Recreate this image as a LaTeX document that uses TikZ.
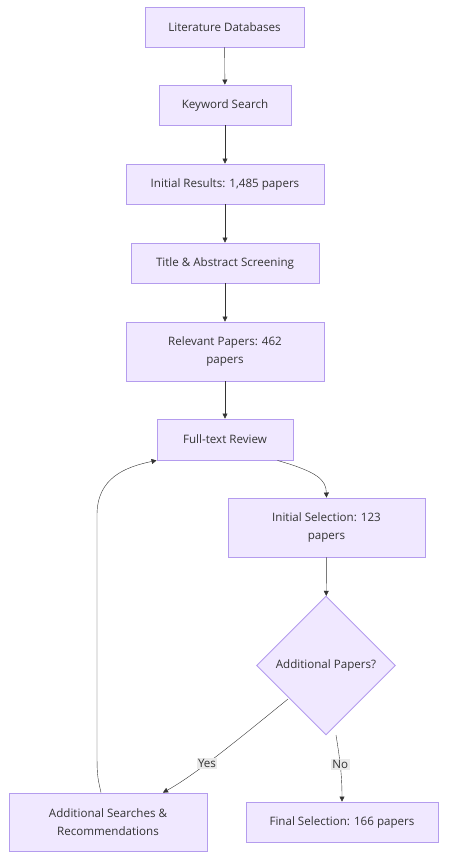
\documentclass[tikz,border=0pt]{standalone}
\usepackage{fontspec}
\setmainfont{Open Sans}
\usetikzlibrary{positioning,arrows.meta,calc,shapes.geometric}

\definecolor{boxfill}{HTML}{F0E8FF}
\definecolor{boxline}{HTML}{B49CEE}
\definecolor{txt}{HTML}{333333}
\definecolor{lblbg}{HTML}{EAEAEA}

\begin{document}
\begin{tikzpicture}[
    x=1pt, y=-1pt,
    every node/.style={inner sep=0pt, text=txt, font=\fontsize{11.6}{18}\selectfont},
    box/.style={draw=boxline, fill=boxfill, line width=0.9pt, align=center},
    choice/.style={diamond, aspect=1, draw=boxline, fill=boxfill, line width=0.9pt, minimum size=139pt},
    lbl/.style={fill=lblbg, inner sep=1.5pt},
    >={Triangle[length=5pt,width=5pt]}
]
\useasboundingbox (0,0) rectangle (449,855);

% Cadena principal
\node[box, minimum width=159, minimum height=40] (lit) at (224.5,27) {Literature Databases};
\node[box, minimum width=132, minimum height=40] (kw) at (225,105) {Keyword Search};
\node[box, minimum width=198, minimum height=40] (res) at (225,184) {Initial Results: 1,485 papers};
\node[box, minimum width=188, minimum height=40] (scr) at (225,263) {Title \& Abstract Screening};
\node[box, minimum width=198, minimum height=59] (rel) at (225,351.5) {Relevant Papers: 462\\papers};
\node[box, minimum width=136, minimum height=41] (full) at (225,439.5) {Full-text Review};

% Seleccion
\node[box, minimum width=197, minimum height=59] (sel) at (326.5,527.5) {Initial Selection: 123\\papers};
\node[choice] (more) at (326,665.5) {Additional Papers?};
\node[box, minimum width=198, minimum height=58] (add) at (108,822) {Additional Searches \&\\Recommendations};
\node[box, minimum width=192, minimum height=40] (fin) at (342,822) {Final Selection: 166 papers};

% Flechas verticales
\draw[->, draw=txt] (lit) -- (kw);
\draw[->, draw=txt] (kw) -- (res);
\draw[->, draw=txt] (res) -- (scr);
\draw[->, draw=txt] (scr) -- (rel);
\draw[->, draw=txt] (rel) -- (full);

% Flechas curvas
\draw[->, draw=txt] ([xshift=-16]full.south east)
    .. controls (318,472) and (326,480) .. (sel.north);
\draw[->, draw=txt] (sel) -- (more);
\draw[->, draw=txt] (288,699)
    .. controls (240,738) and (195,775) .. ([xshift=55]add.north)
    node[lbl, pos=0.6] {Yes};
\draw[->, draw=txt] (336,735)
    .. controls (340,760) and (342,775) .. (fin.north)
    node[lbl, pos=0.45] {No};
\draw[->, draw=txt] ([xshift=-7]add.north)
    .. controls (97,775) .. (97,745) -- (97,515)
    .. controls (97,478) and (125,467) .. (full.south west);

\end{tikzpicture}
\end{document}
